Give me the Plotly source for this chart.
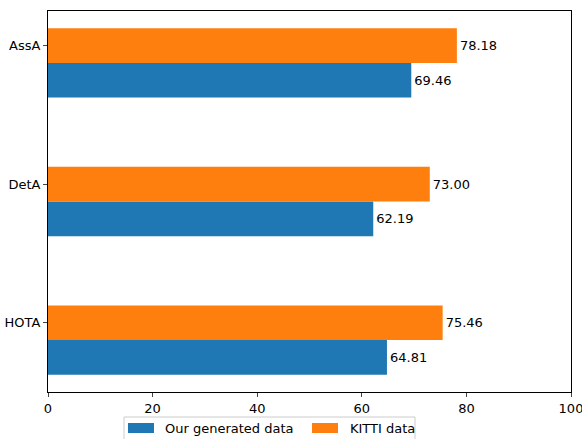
import plotly.graph_objects as go

categories = ["HOTA", "DetA", "AssA"]
ours = [64.81, 62.19, 69.46]
kitti = [75.46, 73.00, 78.18]
series_names = ["Our generated data", "KITTI data"]
colors = ["#1f77b4", "#ff7f0e"]
xticks = [0, 20, 40, 60, 80, 100]

pos = list(range(len(categories)))
bar_h = 0.25
offsets = [-bar_h, 0.0]  # blue below the tick, orange centred on the tick
font = dict(family="DejaVu Sans", size=13, color="black")

W, H = 582, 439
L, R, T, B = 48, 11, 11, 47
pw, ph = W - L - R, H - T - B


def px(x):
    return (x - L) / pw


def py(y):
    return (H - B - y) / ph


fig = go.Figure()
for name, vals, c, off in zip(series_names, [ours, kitti], colors, offsets):
    fig.add_trace(go.Bar(
        y=[p + off for p in pos], x=vals, orientation="h", name=name,
        width=bar_h,
        marker=dict(color=c, line=dict(width=0)),
        text=[f"{v:.2f}" for v in vals], textposition="outside",
        textfont=font, cliponaxis=False, showlegend=False,
    ))

# manual legend (placed like the reference, partially cut at the bottom)
shapes = [dict(type="rect", xref="paper", yref="paper",
               x0=px(124), x1=px(415), y0=py(450), y1=py(417),
               line=dict(color="#cccccc", width=1), fillcolor="white", layer="above")]
annotations = []
patch_x = [128, 312]
text_x = [163, 348]
for name, c, xp, xt in zip(series_names, colors, patch_x, text_x):
    shapes.append(dict(type="rect", xref="paper", yref="paper",
                       x0=px(xp), x1=px(xp + 26), y0=py(433), y1=py(423),
                       line=dict(width=0), fillcolor=c, layer="above"))
    annotations.append(dict(xref="paper", yref="paper", x=px(xt), y=py(428),
                            text=name, showarrow=False, xanchor="left",
                            yanchor="middle", font=font))

fig.update_layout(
    width=W, height=H,
    margin=dict(l=L, r=R, t=T, b=B),
    paper_bgcolor="white", plot_bgcolor="white",
    barmode="overlay",
    font=font,
    showlegend=False,
    shapes=shapes, annotations=annotations,
    xaxis=dict(range=[0, 100], tickvals=xticks, ticks="outside", ticklen=4,
               showline=True, linecolor="black", linewidth=1, mirror=True,
               showgrid=False, zeroline=False, tickfont=font, automargin=False,
               ticklabeloverflow="allow"),
    yaxis=dict(range=[-0.5, 2.25], tickvals=pos, ticktext=categories,
               ticks="outside", ticklen=4, showline=True, linecolor="black",
               linewidth=1, mirror=True, showgrid=False, zeroline=False,
               tickfont=font, automargin=False),
)

fig.write_html("out.html")
